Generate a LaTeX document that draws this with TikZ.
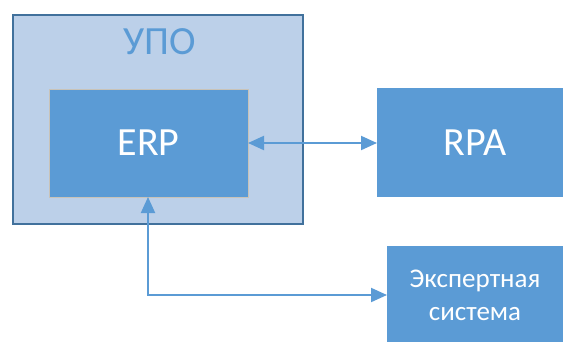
\documentclass[tikz,border=0pt]{standalone}
\usepackage{fontspec}
\setmainfont{Carlito}
\usetikzlibrary{arrows.meta}
\definecolor{boxblue}{HTML}{5B9BD5}
\definecolor{groupfill}{HTML}{BCD0E9}
\definecolor{groupline}{HTML}{41719C}
\definecolor{edgegray}{HTML}{C9C3B8}
\tikzset{
  x=1pt, y=-1pt,
  group/.style={draw=groupline, fill=groupfill, line width=1.4pt},
  sysbox/.style={fill=boxblue, draw=edgegray, line width=0.6pt},
  biglabel/.style={text=white, font=\fontsize{40}{44}\selectfont},
  smalllabel/.style={text=white, font=\fontsize{27}{33}\selectfont, align=center},
  link/.style={draw=boxblue, line width=2pt, {Triangle[length=16pt,width=14pt]}-{Triangle[length=16pt,width=14pt]}}
}
\begin{document}
\begin{tikzpicture}
\useasboundingbox (0,0) rectangle (563,341);
% outer group
\draw[group] (13,15) rectangle (303,224);
\node[text=boxblue, font=\fontsize{40}{44}\selectfont] (upo) at (160,42) {УПО};
% ERP
\draw[sysbox] (49,89) rectangle (248,197);
\node[biglabel] (erp) at (148.5,143) {ERP};
\coordinate (erpR) at (248,143);
\coordinate (erpB) at (148,197);
% RPA
\fill[boxblue] (377,88) rectangle (566,197);
\node[biglabel] (rpa) at (475,143) {RPA};
\coordinate (rpaL) at (377,143);
% expert system
\fill[boxblue] (387,246) rectangle (566,344);
\node[smalllabel] (exp) at (475,295) {Экспертная\\система};
\coordinate (expL) at (387,295);
\coordinate (bend) at (148,295);
% connectors
\draw[link] (erpR) -- (rpaL);
\draw[link] (erpB) -- (bend) -- (expL);
\end{tikzpicture}
\end{document}
